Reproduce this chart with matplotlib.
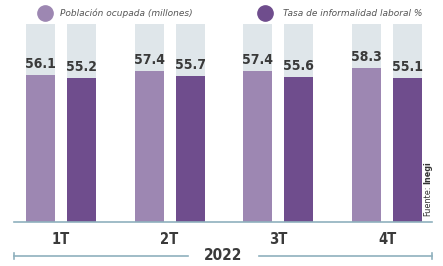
import matplotlib
matplotlib.use("Agg")
import matplotlib.pyplot as plt
from matplotlib.lines import Line2D
import numpy as np

categories = ["1T", "2T", "3T", "4T"]
poblacion = [56.1, 57.4, 57.4, 58.3]
informalidad = [55.2, 55.7, 55.6, 55.1]
series_names = ["Población ocupada (millones)", "Tasa de informalidad laboral %"]
year_label = "2022"

W, H = 443, 266
fig = plt.figure(figsize=(W / 100, H / 100), dpi=100)
fig.patch.set_facecolor("white")

def fx(px):
    return px / W

def fy(py):
    return 1 - py / H

ax = fig.add_axes([fx(14), fy(222), fx(432) - fx(14), fy(24) - fy(222)])
ax.set_facecolor("white")

light = "#9d87b2"
dark = "#6f4d8d"
track = "#dfe6ea"
line_c = "#8fb0bd"
txt = "#3a3a3a"
FAM = ["DejaVu Sans"]

ymin, ymax = 8.7, 72.6
x = np.arange(len(categories))
off = 0.188
bw = 0.266

for xs, vals, col in [(x - off, poblacion, light), (x + off, informalidad, dark)]:
    ax.bar(xs, [ymax - ymin] * len(xs), bottom=ymin, width=bw, color=track, zorder=1)
    ax.bar(xs, np.array(vals) - ymin, bottom=ymin, width=bw, color=col, zorder=2)
    for xi, v in zip(xs, vals):
        ax.text(xi, v + 1.3, f"{v:.1f}", ha="center", va="bottom", fontsize=10,
                fontweight="bold", fontstretch="condensed", color=txt, family=FAM, zorder=3)

ax.set_xlim(-0.431, 3.413)
ax.set_ylim(ymin, ymax)
for s in ["top", "right", "left"]:
    ax.spines[s].set_visible(False)
ax.spines["bottom"].set_color(line_c)
ax.spines["bottom"].set_linewidth(1.2)
ax.set_yticks([])
ax.set_xticks(x)
ax.set_xticklabels(categories, fontsize=10.5, fontweight="bold", fontstretch="condensed",
                   color=txt, family=FAM)
ax.tick_params(axis="x", length=0, pad=7)

# legend
fig.add_artist(Line2D([fx(45)], [fy(13)], marker="o", markersize=11, color=light,
                      linestyle="none", transform=fig.transFigure))
fig.text(fx(60), fy(13), series_names[0], fontsize=6.5, style="italic", color="#555555",
         va="center", ha="left")
fig.add_artist(Line2D([fx(265)], [fy(13)], marker="o", markersize=11, color=dark,
                      linestyle="none", transform=fig.transFigure))
fig.text(fx(283), fy(13), series_names[1], fontsize=6.5, style="italic", color="#555555",
         va="center", ha="left")

# year bracket
yb = fy(256)
fig.add_artist(Line2D([fx(14), fx(188)], [yb, yb], color=line_c, lw=1.2, transform=fig.transFigure))
fig.add_artist(Line2D([fx(259), fx(432)], [yb, yb], color=line_c, lw=1.2, transform=fig.transFigure))
for px in (14, 432):
    fig.add_artist(Line2D([fx(px), fx(px)], [yb - 0.013, yb + 0.013], color=line_c, lw=1.2,
                          transform=fig.transFigure))
fig.text(fx(223), yb, year_label, fontsize=11, fontweight="bold", fontstretch="condensed",
         color=txt, ha="center", va="center", family=FAM)

# source
t1 = fig.text(fx(428), fy(216), "Fuente:", rotation=90, fontsize=6.5, color="#333333",
              ha="center", va="bottom", family=FAM, fontstretch="condensed")
fig.text(fx(428), fy(216), "", fontsize=1)
ann = fig.add_artist(matplotlib.text.Annotation(
    "Inegi", xy=(0.5, 1.0), xycoords=t1, xytext=(0, 1), textcoords="offset points",
    rotation=90, fontsize=6.5, fontweight="bold", color="#333333", ha="center", va="bottom",
    family=FAM, fontstretch="condensed"))

fig.savefig("out.png", dpi=100)
